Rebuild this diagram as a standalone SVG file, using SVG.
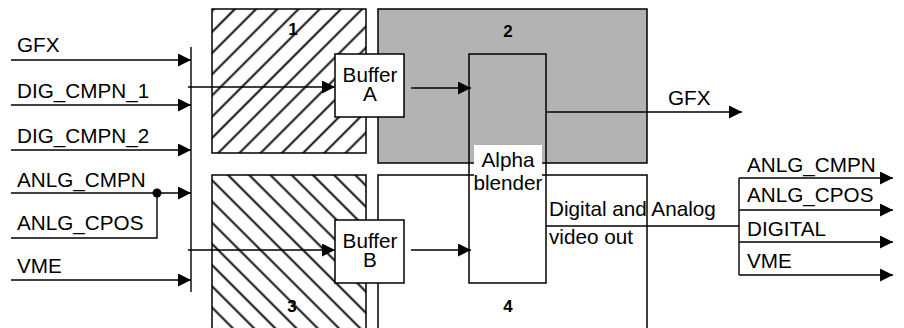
<svg xmlns="http://www.w3.org/2000/svg" width="904" height="328" viewBox="0 0 904 328">
<style>
text{font-family:"Liberation Sans",Arial,sans-serif;font-size:20.7px;fill:#000}
.num{font-size:17px;font-weight:bold;text-anchor:middle}
.c{text-anchor:middle}
.box{stroke:#000;stroke-width:1.5}
.ln{stroke:#000;stroke-width:1.4;fill:none}
</style>
<defs>
<marker id="arr" markerUnits="userSpaceOnUse" markerWidth="14" markerHeight="14" refX="13" refY="6.5" orient="auto">
<path d="M0,0 L13,6.5 L0,13 z" fill="#000"/>
</marker>
<pattern id="hf" patternUnits="userSpaceOnUse" width="15" height="15" patternTransform="rotate(-45)">
<line x1="0" y1="7.5" x2="15" y2="7.5" stroke="#000" stroke-width="1.9"/>
</pattern>
<pattern id="hb" patternUnits="userSpaceOnUse" width="15" height="15" patternTransform="rotate(45)">
<line x1="0" y1="7.5" x2="15" y2="7.5" stroke="#000" stroke-width="1.9"/>
</pattern>
</defs>
<rect width="904" height="328" fill="#fff"/>

<g id="region1">
<rect class="box" x="212" y="9" width="154" height="144" fill="#fff"/>
<rect x="212" y="9" width="154" height="144" fill="url(#hf)"/>
<text class="num" x="293" y="35">1</text>
</g>
<g id="region2">
<rect class="box" x="378" y="9" width="269" height="154" fill="#b3b3b3"/>
<text class="num" x="508" y="37">2</text>
</g>
<g id="region3">
<rect class="box" x="212" y="175" width="154" height="160" fill="#fff"/>
<rect x="212" y="175" width="154" height="160" fill="url(#hb)"/>
<text class="num" x="292" y="312">3</text>
</g>
<g id="region4">
<rect class="box" x="378" y="175" width="269" height="160" fill="#fff"/>
<text class="num" x="508" y="312">4</text>
</g>

<g id="connectors">
<line class="ln" x1="191" y1="47" x2="191" y2="292"/>
<line class="ln" x1="11" y1="60" x2="191" y2="60" marker-end="url(#arr)"/>
<line class="ln" x1="11" y1="105" x2="191" y2="105" marker-end="url(#arr)"/>
<line class="ln" x1="11" y1="150" x2="191" y2="150" marker-end="url(#arr)"/>
<line class="ln" x1="11" y1="193" x2="191" y2="193" marker-end="url(#arr)"/>
<polyline class="ln" points="11,238 157,238 157,193"/>
<circle cx="157" cy="193" r="4.5" fill="#000"/>
<line class="ln" x1="11" y1="280" x2="191" y2="280" marker-end="url(#arr)"/>
<line class="ln" x1="188" y1="87" x2="335" y2="87" marker-end="url(#arr)"/>
<line class="ln" x1="188" y1="250" x2="335" y2="250" marker-end="url(#arr)"/>
<line class="ln" x1="411" y1="88" x2="471" y2="88" marker-end="url(#arr)"/>
<line class="ln" x1="411" y1="250" x2="471" y2="250" marker-end="url(#arr)"/>
<line class="ln" x1="547" y1="112" x2="742" y2="112" marker-end="url(#arr)"/>
<line class="ln" x1="546" y1="226" x2="739" y2="226"/>
<line class="ln" x1="739" y1="178" x2="739" y2="275"/>
<line class="ln" x1="739" y1="178" x2="893" y2="178" marker-end="url(#arr)"/>
<line class="ln" x1="739" y1="210" x2="893" y2="210" marker-end="url(#arr)"/>
<line class="ln" x1="739" y1="242" x2="893" y2="242" marker-end="url(#arr)"/>
<line class="ln" x1="739" y1="275" x2="893" y2="275" marker-end="url(#arr)"/>
</g>

<g id="bufferA">
<rect class="box" x="335" y="54" width="69" height="63" fill="#fff"/>
<text class="c" x="370" y="82">Buffer</text>
<text class="c" x="370" y="101">A</text>
</g>
<g id="bufferB">
<rect class="box" x="335" y="220" width="69" height="63" fill="#fff"/>
<text class="c" x="370" y="248">Buffer</text>
<text class="c" x="370" y="267">B</text>
</g>
<g id="alphaBlender">
<rect class="box" x="469" y="54" width="77" height="229" fill="none"/>
<rect x="474" y="145" width="68" height="48" fill="#fff"/>
<text class="c" x="508" y="167">Alpha</text>
<text class="c" x="508" y="190">blender</text>
</g>

<g id="labels">
<text x="17" y="52">GFX</text>
<text x="17" y="98">DIG_CMPN_1</text>
<text x="17" y="143">DIG_CMPN_2</text>
<text x="17" y="187">ANLG_CMPN</text>
<text x="17" y="230">ANLG_CPOS</text>
<text x="17" y="273">VME</text>
<text x="668" y="105">GFX</text>
<text x="549" y="216">Digital and Analog</text>
<text x="549" y="244">video out</text>
<text x="747" y="172">ANLG_CMPN</text>
<text x="747" y="202">ANLG_CPOS</text>
<text x="747" y="236">DIGITAL</text>
<text x="747" y="268">VME</text>
</g>
</svg>
